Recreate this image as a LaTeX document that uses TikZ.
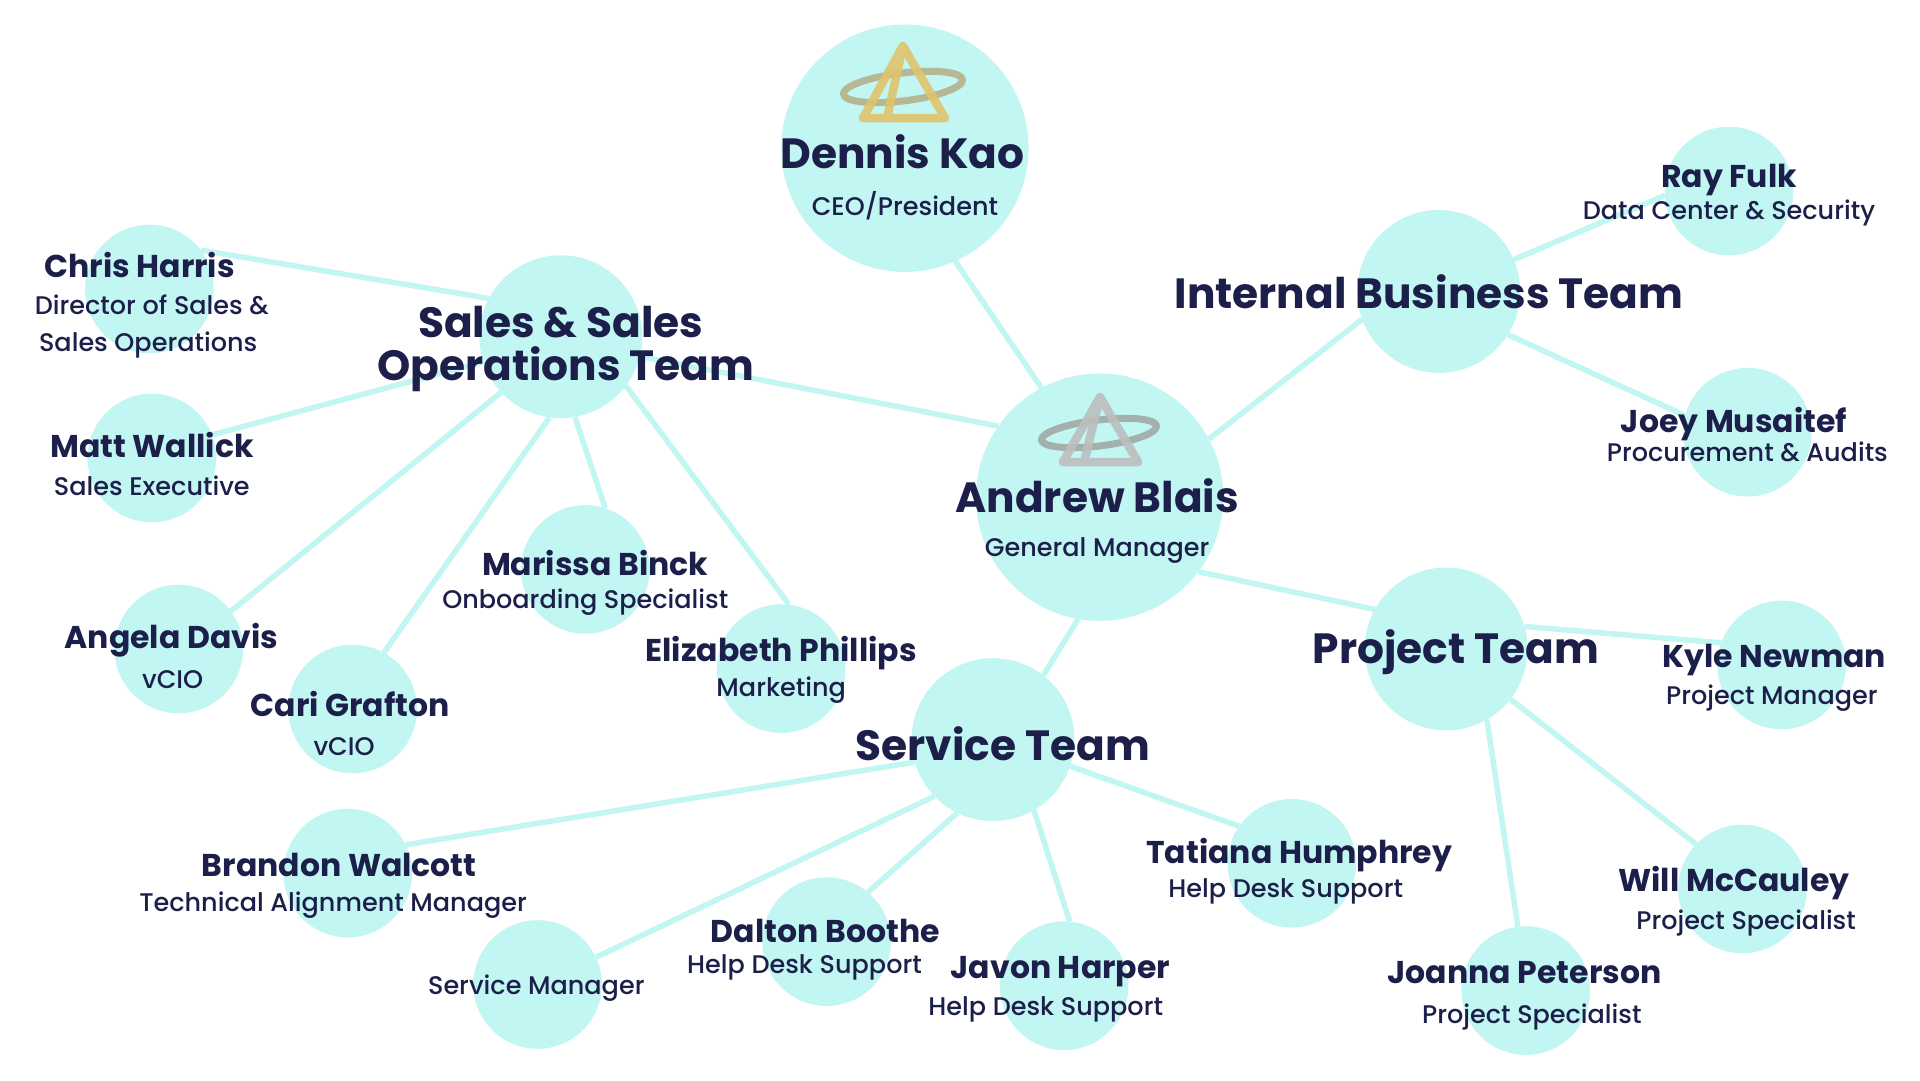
\documentclass[tikz,border=0pt]{standalone}
\usepackage{fontspec}
\setmainfont{Poppins}
\newfontfamily\nmfont{Poppins}[UprightFont=* Bold]
\newfontfamily\subfont{Poppins Medium}
\definecolor{aqua}{HTML}{C1F6F2}
\definecolor{ink}{HTML}{1C1F4A}
\definecolor{goldtri}{HTML}{E0C46C}
\definecolor{goldring}{HTML}{B5B795}
\definecolor{graytri}{HTML}{BDBDBD}
\definecolor{grayring}{HTML}{A3B0AC}
\tikzset{
 big/.style={circle,fill=aqua,minimum size=202*1.2245pt,inner sep=0pt},
 mid/.style={circle,fill=aqua,minimum size=133*1.2245pt,inner sep=0pt},
 small/.style={circle,fill=aqua,minimum size=105*1.2245pt,inner sep=0pt},
 link/.style={draw=aqua,line width=5.5pt},
 nm/.style={anchor=base,inner sep=0pt,text=ink,font=\nmfont\fontsize{31.5}{31.5}\selectfont},
 bignm/.style={anchor=base,inner sep=0pt,text=ink,font=\nmfont\fontsize{42.3}{42.3}\selectfont},
 teamnm/.style={anchor=base,inner sep=0pt,text=ink,font=\nmfont\fontsize{42.3}{42.3}\selectfont},
 sub/.style={anchor=base,inner sep=0pt,text=ink,font=\subfont\fontsize{25.5}{25.5}\selectfont},
 logo/.style={line join=round,line cap=round},
}
\begin{document}
\begin{tikzpicture}[x=1.2245pt,y=-1.2245pt]
\useasboundingbox (0,0) rectangle (1568,882);
\fill[white] (0,0) rectangle (1568,882);
% circles
\node[big] (dennis) at (739,121) {};
\node[big] (andrew) at (898,406) {};
\node[mid] (sales) at (458,275) {};
\node[mid] (internal) at (1175,238) {};
\node[mid] (project) at (1181,530) {};
\node[mid] (service) at (811,604) {};
\node[small] (ray) at (1412,156) {};
\node[small] (joey) at (1427,353) {};
\node[small] (kyle) at (1455,543) {};
\node[small] (will) at (1423,726) {};
\node[small] (joanna) at (1246,809) {};
\node[small] (tatiana) at (1055,705) {};
\node[small] (javon) at (869,805) {};
\node[small] (dalton) at (675,769) {};
\node[small] (svcmgr) at (439,804) {};
\node[small] (brandon) at (284,713) {};
\node[small] (cari) at (288,579) {};
\node[small] (angela) at (146,530) {};
\node[small] (elizabeth) at (638,546) {};
\node[small] (marissa) at (478,465) {};
\node[small] (matt) at (124,374) {};
\node[small] (chris) at (122,236) {};
% connectors
\draw[link] (dennis.-66) -- (andrew.118);
\draw[link] (andrew.145.5) -- (sales.-14);
\draw[link] (andrew.28) -- (internal.200);
\draw[link] (andrew.-37.7) -- (project.151.5);
\draw[link] (andrew.-100) -- (service.52);
\draw[link] (internal.23) -- (ray.184);
\draw[link] (internal.-32) -- (joey.165);
\draw[link] (project.16.5) -- (kyle.160);
\draw[link] (project.-38) -- (will.136);
\draw[link] (project.-60) -- (joanna.97);
\draw[link] (service.-19) -- (tatiana.145);
\draw[link] (service.-60.7) -- (javon.85.5);
\draw[link] (service.-116.6) -- (dalton.50.5);
\draw[link] (service.-136) -- (svcmgr.25.6);
\draw[link] (service.-164.7) -- (brandon.26.6);
\draw[link] (sales.-37.7) -- (elizabeth.83.4);
\draw[link] (sales.-80) -- (marissa.72.6);
\draw[link] (sales.-98.7) -- (cari.61);
\draw[link] (sales.-137) -- (angela.36.6);
\draw[link] (sales.198.4) -- (matt.21.6);
\draw[link] (sales.152) -- (chris.37.5);
% logos
\draw[logo,line width=7pt,draw=goldring] (737.4,71) [rotate around={7:(737.4,71)}] ellipse [x radius=49,y radius=11.4];
\draw[logo,line width=8.5pt,draw=goldtri,opacity=.9] (737.4,37.6) -- (771.7,96.4) -- (704.8,96.4) -- cycle (737.4,37.6) -- (724.4,96.4);
\draw[logo,line width=7pt,draw=grayring] (897.5,353.6) [rotate around={7:(897.5,353.6)}] ellipse [x radius=47.4,y radius=10.6];
\draw[logo,line width=8.5pt,draw=graytri,opacity=.9] (898.3,324.2) -- (929.4,377.3) -- (868.1,377.3) -- cycle (898.3,324.2) -- (885.3,377.3);
% text
\node[bignm] (t1) at (737,138) {Dennis Kao};
\node[sub] (t2) at (739,175.6) {CEO/President};
\node[bignm] (t3) at (896,418.7) {Andrew Blais};
\node[sub] (t4) at (896,454.6) {General Manager};
\node[teamnm] (t5) at (458,276) {Sales \& Sales};
\node[teamnm] (t6) at (462,311) {Operations Team};
\node[teamnm] (t7) at (1167,252) {Internal Business Team};
\node[nm] (t8) at (1412,153) {Ray Fulk};
\node[sub] (t9) at (1412,179) {Data Center \& Security};
\node[nm] (t10) at (1416,353) {Joey Musaitef};
\node[sub] (t11) at (1427,377) {Procurement \& Audits};
\node[teamnm] (t12) at (1189,542) {Project Team};
\node[nm] (t13) at (1449,545) {Kyle Newman};
\node[sub] (t14) at (1447,575) {Project Manager};
\node[nm] (t15) at (1416,728) {Will McCauley};
\node[sub] (t16) at (1426,759) {Project Specialist};
\node[nm] (t17) at (1245,803) {Joanna Peterson};
\node[sub] (t18) at (1251,836) {Project Specialist};
\node[nm] (t19) at (1061,705) {Tatiana Humphrey};
\node[sub] (t20) at (1050,733) {Help Desk Support};
\node[teamnm] (t21) at (819,621) {Service Team};
\node[nm] (t22) at (866,799) {Javon Harper};
\node[sub] (t23) at (854,829) {Help Desk Support};
\node[nm] (t24) at (674,770) {Dalton Boothe};
\node[sub] (t25) at (657,795) {Help Desk Support};
\node[sub] (t26) at (438,812) {Service Manager};
\node[nm] (t27) at (277,716) {Brandon Walcott};
\node[sub] (t28) at (272,744) {Technical Alignment Manager};
\node[nm] (t29) at (286,585) {Cari Grafton};
\node[sub] (t30) at (281,617) {vCIO};
\node[nm] (t31) at (140,530) {Angela Davis};
\node[sub] (t32) at (141,562) {vCIO};
\node[nm] (t33) at (638,540) {Elizabeth Phillips};
\node[sub] (t34) at (638,569) {Marketing};
\node[nm] (t35) at (486,470) {Marissa Binck};
\node[sub] (t36) at (478,497) {Onboarding Specialist};
\node[nm] (t37) at (124,374) {Matt Wallick};
\node[sub] (t38) at (124,405) {Sales Executive};
\node[nm] (t39) at (114,227) {Chris Harris};
\node[sub] (t40) at (124,257) {Director of Sales \&};
\node[sub] (t41) at (121,287) {Sales Operations};
\end{tikzpicture}
\end{document}
